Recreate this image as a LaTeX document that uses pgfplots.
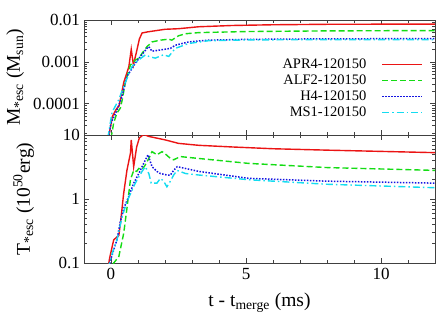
\documentclass[border=0pt]{standalone}
\usepackage{fontspec}
\setmainfont{Liberation Serif}
\usepackage{pgfplots}
\pgfplotsset{compat=1.18}
\definecolor{cR}{RGB}{235,20,20}
\definecolor{cG}{RGB}{20,220,20}
\definecolor{cB}{RGB}{20,20,225}
\definecolor{cC}{RGB}{20,220,240}
\pgfplotsset{
  myaxis/.style={
    scale only axis, width=351pt, xmin=-1, xmax=12,
    axis line style={black!75, line width=0.8pt},
    every tick/.style={black!75, line width=0.6pt},
    major tick length=5pt, minor tick length=3pt,
    tick align=inside, xtick pos=both, ytick pos=both,
    xtick={0,5,10}, minor xtick={-1,1,2,3,4,6,7,8,9,11},
    tick label style={font=\fontsize{17}{20}\selectfont},
    yticklabel style={anchor=east, inner sep=0pt, xshift=-4pt},
    xticklabel style={anchor=base, inner sep=0pt, yshift=-16pt},
  },
}
\tikzset{
  sA/.style={cR, line width=1.4pt},
  sB/.style={cG, line width=1.4pt, dash pattern=on 6pt off 3pt},
  sC/.style={cB, line width=1.5pt, dash pattern=on 1.5pt off 1.5pt},
  sD/.style={cC, line width=1.4pt, dash pattern=on 7pt off 3pt on 1.5pt off 3pt},
}
\begin{document}
\begin{tikzpicture}
\useasboundingbox (0,0) rectangle (447pt,-313pt);
\begin{axis}[ymode=log, myaxis, at={(84pt,-20pt)}, anchor=north west, height=115pt,
  ymin=1.8e-5, ymax=1e-2,
  ytick={1e-4,1e-3,1e-2}, yticklabels={0.0001,0.001,0.01},
  minor ytick={2e-5,3e-5,4e-5,5e-5,6e-5,7e-5,8e-5,9e-5,2e-4,3e-4,4e-4,5e-4,6e-4,7e-4,8e-4,9e-4,2e-3,3e-3,4e-3,5e-3,6e-3,7e-3,8e-3,9e-3},
  xticklabels={,,},
  ylabel={M\textsubscript{*esc} (M\textsubscript{sun})},
  ylabel style={at={(axis description cs:0,0.5)}, anchor=base, yshift=64pt, font=\fontsize{19.5}{22}\selectfont},
  legend cell align=right, legend plot pos=right,
  legend style={at={(axis description cs:1,0)}, anchor=south east, xshift=-12pt, yshift=15pt,
    draw=none, fill=none, inner sep=0pt, column sep=13pt, row sep=0.8pt,
    font=\fontsize{14.5}{15}\selectfont},
  legend image code/.code={\draw[#1] (0pt,0pt) -- (40pt,0pt);},
]
\addplot[sA] coordinates {(-0.12,1.2e-5)(0.05,5e-5)(0.2,7.5e-5)(0.3,9e-5)(0.47,3.2e-4)(0.66,7.6e-4)(0.75,2.0e-3)(0.83,8.5e-4)(0.95,1.8e-3)(1.05,3.5e-3)(1.15,4.9e-3)(1.35,5.2e-3)(2.0,6.0e-3)(2.5,6.2e-3)(3.25,6.9e-3)(4.5,7.4e-3)(6,7.7e-3)(8,7.9e-3)(12,8.0e-3)};
\addlegendentry{APR4-120150}
\addplot[sB] coordinates {(0.0,1.5e-5)(0.1,3.5e-5)(0.22,6e-5)(0.35,8e-5)(0.41,1.2e-4)(0.53,3.2e-4)(0.72,8.5e-4)(0.9,1.1e-3)(1.03,1.23e-3)(1.15,1.6e-3)(1.33,2.3e-3)(1.52,3.0e-3)(1.83,3.3e-3)(2.14,3.5e-3)(2.25,3.3e-3)(2.5,4.2e-3)(2.76,4.7e-3)(3.25,5.0e-3)(5,5.3e-3)(8,5.5e-3)(12,5.6e-3)};
\addlegendentry{ALF2-120150}
\addplot[sC] coordinates {(-0.1,1.5e-5)(0.0,3.5e-5)(0.22,7e-5)(0.41,1.5e-4)(0.59,4.5e-4)(0.9,9.3e-4)(1.15,1.5e-3)(1.33,2.1e-3)(1.4,2.3e-3)(1.52,1.8e-3)(1.88,1.95e-3)(2.2,2.1e-3)(2.38,2.5e-3)(2.88,3.0e-3)(3.6,3.3e-3)(5,3.45e-3)(8,3.55e-3)(12,3.6e-3)};
\addlegendentry{H4-120150}
\addplot[sD] coordinates {(-0.12,1.5e-5)(0.04,6.3e-5)(0.29,1.26e-4)(0.47,2.6e-4)(0.78,7.8e-4)(1.03,1.12e-3)(1.28,1.48e-3)(1.4,1.35e-3)(1.64,1.23e-3)(1.95,1.48e-3)(2.14,1.35e-3)(2.38,2.1e-3)(2.88,2.75e-3)(3.6,3.2e-3)(5,3.35e-3)(8,3.4e-3)(12,3.4e-3)};
\addlegendentry{MS1-120150}
\end{axis}
\begin{axis}[ymode=log, myaxis, at={(84pt,-135pt)}, anchor=north west, height=128pt,
  ymin=0.1, ymax=10,
  ytick={0.1,1,10}, yticklabels={0.1,1,10},
  minor ytick={0.2,0.3,0.4,0.5,0.6,0.7,0.8,0.9,2,3,4,5,6,7,8,9},
  xticklabels={0,5,10},
  ylabel={T\textsubscript{*esc} (10\textsuperscript{50}erg)},
  ylabel style={at={(axis description cs:0,0.5)}, anchor=base, yshift=54pt, font=\fontsize{19.5}{22}\selectfont},
  xlabel={t - t\textsubscript{merge} (ms)},
  xlabel style={at={(axis description cs:0.5,0)}, anchor=base, yshift=-43pt, font=\fontsize{19.5}{22}\selectfont},
]
\addplot[sA] coordinates {(-0.12,0.08)(-0.05,0.12)(0.1,0.23)(0.29,0.27)(0.35,0.42)(0.47,1.23)(0.59,2.8)(0.72,5.2)(0.75,8.4)(0.84,3.2)(0.95,6.5)(1.05,9.0)(1.21,10.2)(1.4,9.5)(2.0,8.4)(2.5,7.4)(3.25,6.9)(4.5,6.5)(6,6.1)(8,5.8)(12,5.3)};
\addplot[sB] coordinates {(0.0,0.07)(0.1,0.1)(0.29,0.126)(0.47,0.29)(0.59,0.71)(0.72,2.0)(0.84,2.8)(0.95,2.7)(1.03,3.0)(1.15,2.9)(1.25,3.3)(1.4,4.3)(1.52,5.5)(1.7,4.9)(1.89,5.5)(2.05,4.9)(2.2,4.3)(2.32,4.1)(2.57,4.6)(3.25,4.3)(5.1,3.6)(8,3.1)(12,2.8)};
\addplot[sC] coordinates {(-0.12,0.08)(0.1,0.16)(0.22,0.23)(0.35,0.45)(0.47,0.71)(0.66,1.1)(0.84,1.77)(1.03,2.5)(1.21,3.6)(1.37,4.9)(1.52,3.2)(1.7,2.7)(1.83,2.5)(2.07,2.37)(2.2,2.37)(2.32,2.8)(2.45,3.2)(2.76,3.0)(3.25,2.7)(5.1,2.1)(8,1.9)(12,1.77)};
\addplot[sD] coordinates {(-0.12,0.08)(0.04,0.14)(0.22,0.23)(0.41,0.52)(0.59,0.91)(0.9,1.77)(1.15,2.7)(1.27,3.2)(1.4,2.5)(1.49,1.77)(1.7,1.77)(1.83,2.1)(1.95,1.9)(2.07,1.55)(2.2,1.9)(2.32,2.37)(2.45,2.8)(2.76,2.5)(3.25,2.37)(5.1,2.0)(8,1.7)(12,1.5)};
\end{axis}
\end{tikzpicture}
\end{document}
